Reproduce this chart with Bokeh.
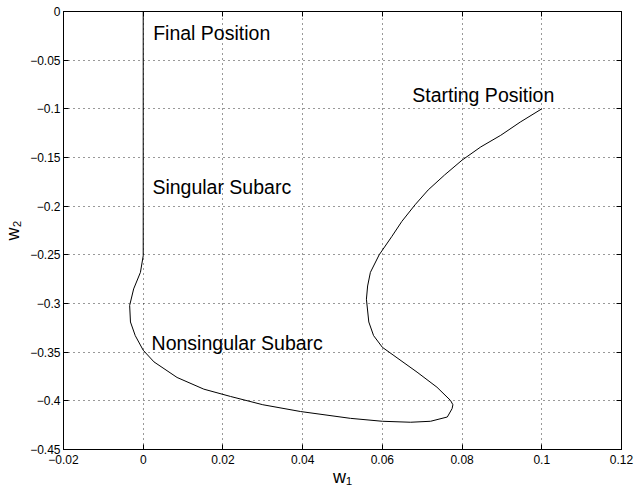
from bokeh.core.properties import value
from bokeh.embed import file_html
from bokeh.models import FixedTicker, LinearAxis, Range1d
from bokeh.plotting import figure
from bokeh.resources import INLINE

# Trajectory in the (w1, w2) plane, from the starting position to the final position
w1 = [0.1000, 0.0946, 0.0897, 0.0847, 0.0800, 0.0756, 0.0715, 0.0682, 0.0649,
      0.0624, 0.0592, 0.0570, 0.0563, 0.0560, 0.0566, 0.0578, 0.0600, 0.0629,
      0.0687, 0.0737, 0.0771, 0.0777, 0.0775, 0.0763, 0.0721, 0.0671, 0.0600,
      0.0520, 0.0395, 0.0300, 0.0219, 0.0152, 0.0085, 0.0027, 0.0000, -0.0020,
      -0.0032, -0.0034, -0.0024, -0.0007, 0.0000, 0.0000]
w2 = [-0.1000, -0.1136, -0.1272, -0.1391, -0.1527, -0.1680, -0.1833, -0.1986, -0.2156,
      -0.2310, -0.2500, -0.2680, -0.2820, -0.2956, -0.3190, -0.3330, -0.3450, -0.3535,
      -0.3705, -0.3860, -0.3996, -0.4040, -0.4080, -0.4166, -0.4210, -0.4220, -0.4210,
      -0.4180, -0.4110, -0.4040, -0.3955, -0.3880, -0.3760, -0.3600, -0.3480, -0.3330,
      -0.3190, -0.3020, -0.2850, -0.2680, -0.2510, 0.0000]

# Annotations along the path
note_text = ["Final Position", "Singular Subarc", "Nonsingular Subarc", "Starting Position"]
note_x = [0.0025, 0.0023, 0.0021, 0.0675]
note_y = [-0.0220, -0.1805, -0.3407, -0.0857]

# Ticks
x_ticks = [-0.02, 0.0, 0.02, 0.04, 0.06, 0.08, 0.1, 0.12]
x_tick_labels = ["\u22120.02", "0", "0.02", "0.04", "0.06", "0.08", "0.1", "0.12"]
y_ticks = [-0.45, -0.4, -0.35, -0.3, -0.25, -0.2, -0.15, -0.1, -0.05, 0.0]
y_tick_labels = ["\u22120.45", "\u22120.4", "\u22120.35", "\u22120.3", "\u22120.25",
                 "\u22120.2", "\u22120.15", "\u22120.1", "\u22120.05", "0"]

FONT = "Liberation Sans"

p = figure(width=635, height=489, output_backend="svg", toolbar_location=None,
           x_range=Range1d(-0.02, 0.12), y_range=Range1d(-0.45, 0.0),
           min_border_left=63, min_border_right=14, min_border_top=11,
           min_border_bottom=38, background_fill_color="white",
           border_fill_color="white")
p.outline_line_color = "black"
p.outline_line_width = 1


def style_axis(ax, ticks, labels=None):
    ax.ticker = FixedTicker(ticks=ticks)
    ax.axis_line_color = "black"
    ax.major_tick_line_color = "black"
    ax.major_tick_in = 5
    ax.major_tick_out = 0
    ax.minor_tick_line_color = None
    ax.major_label_text_font = FONT
    ax.major_label_text_color = "black"
    ax.major_label_text_font_size = "12px"
    if labels is None:
        # box axes: ticks only
        ax.major_label_overrides = {t: "" for t in ticks}
        ax.major_label_standoff = 0
    else:
        ax.major_label_overrides = {t: s for t, s in zip(ticks, labels)}
    ax.axis_label_text_font = FONT
    ax.axis_label_text_font_style = "normal"
    ax.axis_label_text_color = "black"
    ax.axis_label_text_font_size = "18px"


style_axis(p.xaxis[0], x_ticks, x_tick_labels)
p.xaxis[0].major_label_standoff = 5
p.xaxis[0].axis_label = "w\u2081"
p.xaxis[0].axis_label_standoff = 0
style_axis(p.yaxis[0], y_ticks, y_tick_labels)
p.yaxis[0].major_label_standoff = 3
p.yaxis[0].axis_label = "w\u2082"
p.yaxis[0].axis_label_standoff = 4

top = LinearAxis()
style_axis(top, x_ticks)
p.add_layout(top, "above")
right = LinearAxis()
style_axis(right, y_ticks)
p.add_layout(right, "right")

p.xgrid.ticker = FixedTicker(ticks=x_ticks)
p.ygrid.ticker = FixedTicker(ticks=y_ticks)
for g in (p.xgrid, p.ygrid):
    g.grid_line_color = "black"
    g.grid_line_dash = "1 4"
    g.grid_line_width = 1
    g.grid_line_alpha = 0.8

p.line(w1, w2, line_color="black", line_width=1)

p.text(x=note_x, y=note_y, text=note_text, text_font=value(FONT),
       text_font_size="19.5px", text_align="left", text_baseline="alphabetic",
       text_color="black")

open("out.html", "w").write(file_html(p, INLINE))
